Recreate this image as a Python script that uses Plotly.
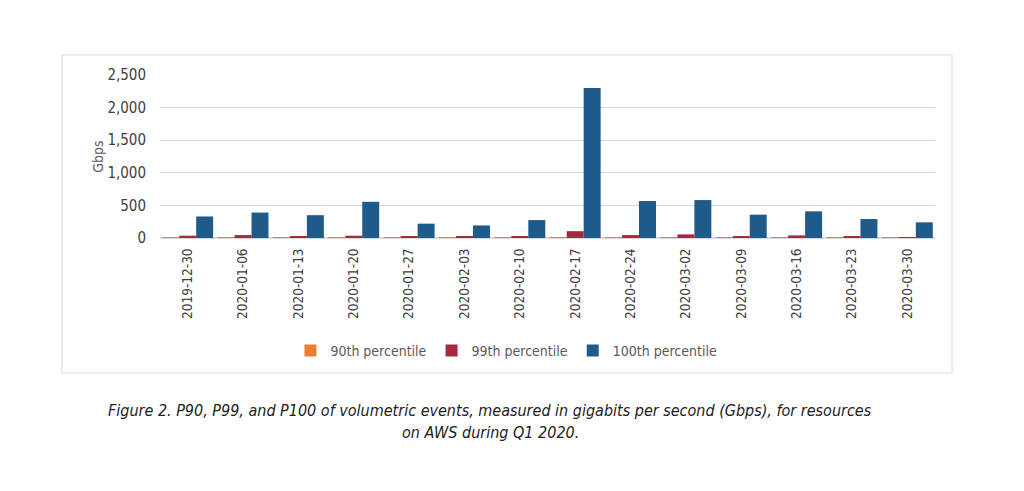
import plotly.graph_objects as go

weeks = ["2019-12-30", "2020-01-06", "2020-01-13", "2020-01-20", "2020-01-27",
         "2020-02-03", "2020-02-10", "2020-02-17", "2020-02-24", "2020-03-02",
         "2020-03-09", "2020-03-16", "2020-03-23", "2020-03-30"]
p90 = [8, 10, 8, 8, 7, 6, 6, 8, 8, 9, 6, 8, 6, 5]
p99 = [35, 45, 30, 35, 25, 20, 25, 105, 45, 55, 20, 40, 25, 15]
p100 = [330, 390, 350, 555, 220, 193, 275, 2300, 567, 582, 358, 409, 291, 240]

series_names = ["90th percentile", "99th percentile", "100th percentile"]
series_colors = ["#ED7D31", "#A8283F", "#1F5B8A"]
y_ticks = [0, 500, 1000, 1500, 2000, 2500]

fig = go.Figure()
for name, vals, col in zip(series_names, [p90, p99, p100], series_colors):
    fig.add_trace(go.Bar(x=weeks, y=vals, name=name, marker_color=col,
                         marker_line_width=0))

font_main = "DejaVu Sans Condensed, Liberation Sans, sans-serif"

fig.update_layout(
    width=1024, height=491,
    margin=dict(l=152, r=97, t=67, b=261),
    paper_bgcolor="white", plot_bgcolor="white",
    barmode="group", bargap=0.08, bargroupgap=0,
    font=dict(family=font_main, color="#595959", size=13),
    showlegend=True,
    legend=dict(orientation="h", x=0.447, y=-0.693, xanchor="center", yanchor="middle",
                font=dict(size=14, color="#595959"), itemwidth=30, traceorder="normal"),
    xaxis=dict(type="category", tickangle=-90, showgrid=False, showline=True,
               linecolor="#d9d9d9", ticks="", tickfont=dict(size=13.5, color="#404040"),
               ticklabelstandoff=4),
    yaxis=dict(range=[0, 2500], tickvals=y_ticks, tickformat=",", showgrid=True,
               gridcolor="#d9d9d9", zeroline=True, zerolinecolor="#d9d9d9",
               ticks="outside", ticklen=10, tickcolor="rgba(0,0,0,0)",
               tickfont=dict(size=15, color="#404040")),
    shapes=[dict(type="rect", xref="paper", yref="paper", x0=-0.1265, x1=1.022,
                 y0=-0.828, y1=1.1227, line=dict(color="#d9d9d9", width=1),
                 fillcolor="rgba(0,0,0,0)", layer="below")],
    annotations=[
        dict(text="Gbps", xref="paper", yref="paper", x=-0.081, y=0.50,
             xanchor="center", yanchor="middle",
             textangle=-90, showarrow=False, font=dict(size=14, color="#595959")),
        dict(text="<i>Figure 2. P90, P99, and P100 of volumetric events, measured in gigabits per second (Gbps), for resources</i>",
             xref="paper", yref="paper", x=0.426, y=(238 - 410) / 163, showarrow=False,
             xanchor="center", yanchor="middle", font=dict(size=16, color="#222222")),
        dict(text="<i>on AWS during Q1 2020.</i>",
             xref="paper", yref="paper", x=0.426, y=(238 - 432) / 163, showarrow=False,
             xanchor="center", yanchor="middle", font=dict(size=16, color="#222222")),
    ],
)

fig.write_html("out.html")
